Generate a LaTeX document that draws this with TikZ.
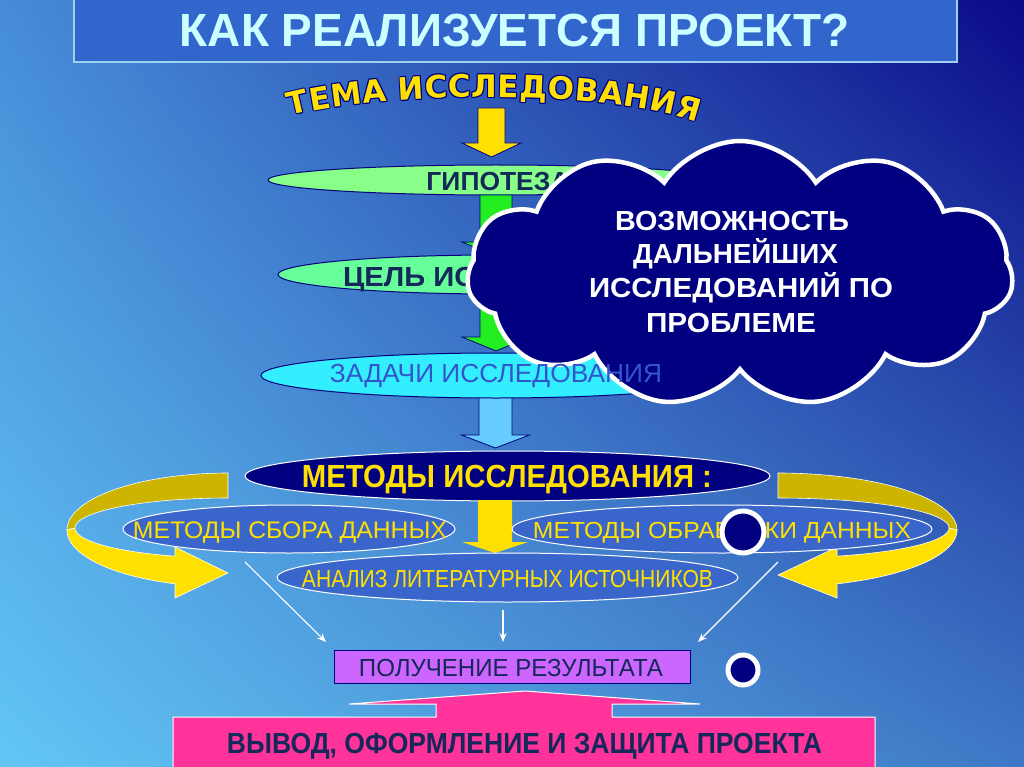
\documentclass[tikz,border=0pt]{standalone}
\usepackage{fontspec}
\setmainfont{Liberation Sans}
\newfontfamily\temafont{DejaVu Sans}
\usepackage{graphicx}
\usetikzlibrary{shapes.symbols,shapes.geometric,decorations.text,arrows.meta,shadings}
\definecolor{navy}{HTML}{000080}
\definecolor{ttl}{HTML}{3366CC}
\definecolor{ttltext}{HTML}{CCFFFF}
\definecolor{yel}{HTML}{FFE000}
\definecolor{olv}{HTML}{CCB400}
\definecolor{grnA}{HTML}{88FF88}
\definecolor{grnB}{HTML}{66FF99}
\definecolor{grnarr}{HTML}{22EE22}
\definecolor{cyanf}{HTML}{33EEFF}
\definecolor{skyarr}{HTML}{66CCFF}
\definecolor{subf}{HTML}{3A66CC}
\definecolor{viol}{HTML}{CC66FF}
\definecolor{pinkf}{HTML}{FF3399}
\definecolor{dtext}{HTML}{14285A}
\definecolor{btext}{HTML}{3355CC}
\definecolor{bgTL}{HTML}{468CD8}
\definecolor{bgTR}{HTML}{0A0A88}
\definecolor{bgBL}{HTML}{62C6F5}
\definecolor{bgBR}{HTML}{3F78C6}
\newcommand\fitt[3]{\resizebox{#1}{#2}{\raisebox{0pt}[\fontcharht\font`\H][0pt]{#3}}}
\newcommand\barrow[7]{\path[#1] ({#2-#6},#3) -- ({#2+#6},#3) -- ({#2+#6},#4) -- ({#2+#7},#4) -- (#2,#5) -- ({#2-#7},#4) -- ({#2-#6},#4) -- cycle;}
\tikzset{
  lbl/.style={inner sep=0pt, outer sep=0pt},
  ovl/.style={ellipse, inner sep=0pt, outer sep=0pt},
  darkov/.style={ovl, draw=navy, line width=1pt},
  whiteov/.style={ovl, draw=white, line width=1pt},
  thinarr/.style={draw=white, line width=1.1pt, -{Stealth[length=9pt,width=7pt]}},
  dot/.style={circle, fill=navy, draw=white, inner sep=0pt},
}
\begin{document}
\begin{tikzpicture}[x=1pt,y=-1pt]
\useasboundingbox (0,0) rectangle (1024,767);
\clip (0,0) rectangle (1024,767);
\shade[upper left=bgTL, upper right=bgTR, lower left=bgBL, lower right=bgBR] (0,0) rectangle (1024,767);

% title
\path[fill=ttl, draw=ttltext!70!ttl, line width=1.2pt] (74,-4) rectangle (957,62);
\node[lbl, font=\bfseries, text=ttltext] (title) at (515,31) {\fitt{670pt}{32pt}{КАК РЕАЛИЗУЕТСЯ ПРОЕКТ?}};

% tema (curved, outlined)
\foreach \dx/\dy in {-1/0,1/0,0/-1,0/1,0.8/0.8,-0.8/-0.8,0.8/-0.8,-0.8/0.8}{
\path[decorate, decoration={text along path, text={|\temafont\bfseries\fontsize{31}{31}\selectfont\color{navy}|ТЕМА ИССЛЕДОВАНИЯ}, text align=fit to path}] ({290+\dx},{116+\dy}) .. controls ({380+\dx},{92+\dy}) and ({600+\dx},{88+\dy}) .. ({697+\dx},{122+\dy});
}
\path[decorate, decoration={text along path, text={|\temafont\bfseries\fontsize{31}{31}\selectfont\color{yel}|ТЕМА ИССЛЕДОВАНИЯ}, text align=fit to path}] (290,116) .. controls (380,92) and (600,88) .. (697,122);

% arrows down the column
\barrow{fill=yel, draw=navy, line width=0.8pt}{491.5}{108}{143}{157}{13.5}{29.5}
\barrow{fill=grnarr, draw=navy, line width=0.8pt}{496}{194}{242}{256}{16}{34}
\barrow{fill=grnarr, draw=navy, line width=0.8pt}{496}{290}{337}{351}{16}{34}

\node[darkov, fill=grnA, minimum width=456pt, minimum height=30pt] (gip) at (496,180) {};
\node[lbl, font=\bfseries, text=dtext] (giptxt) at (498,181) {\fitt{143pt}{18pt}{ГИПОТЕЗА}};
\node[darkov, fill=grnB, minimum width=436pt, minimum height=39pt] (cel) at (496,274.5) {};
\node[lbl, font=\bfseries, text=dtext, anchor=west] (celtxt) at (343,276.5) {\fitt{340pt}{19pt}{ЦЕЛЬ ИССЛЕДОВАНИЯ}};

\barrow{fill=skyarr, draw=navy, line width=0.8pt}{495.5}{392}{435}{448}{16.5}{34}
\node[darkov, fill=cyanf, minimum width=470pt, minimum height=45pt] (zad) at (496,375.5) {};

% cloud
\node[cloud, cloud puffs=11, cloud puff arc=115, aspect=2.1, fill=navy, draw=white, line width=4.5pt, minimum width=546pt, minimum height=266pt] (cloud) at (740,274) {};
\node[lbl, font=\bfseries, text=white] (c1) at (732,221) {\fitt{234pt}{19pt}{ВОЗМОЖНОСТЬ}};
\node[lbl, font=\bfseries, text=white] (c2) at (735.5,254) {\fitt{205pt}{19pt}{ДАЛЬНЕЙШИХ}};
\node[lbl, font=\bfseries, text=white] (c3) at (741,288) {\fitt{304pt}{19pt}{ИССЛЕДОВАНИЙ ПО}};
\node[lbl, font=\bfseries, text=white] (c4) at (731,323) {\fitt{170pt}{19pt}{ПРОБЛЕМЕ}};

\node[lbl, text=btext] (zadtxt) at (496,373) {\fitt{332pt}{18pt}{ЗАДАЧИ ИССЛЕДОВАНИЯ}};

% methods
\node[whiteov, fill=navy, minimum width=525pt, minimum height=50pt] (met) at (507.5,476) {};
\node[lbl, font=\bfseries, text=yel] (mettxt) at (507,476) {\fitt{410pt}{22pt}{МЕТОДЫ ИССЛЕДОВАНИЯ :}};

\barrow{fill=yel}{495}{500}{542}{553}{17}{33}

% curved arrows
\path[fill=olv, draw=white, line width=0.6pt] plot[domain=270:180, samples=40] ({228+161*cos(\x)},{530+57*sin(\x)}) -- plot[domain=180:270, samples=40] ({228+153*cos(\x)},{528+30*sin(\x)}) -- cycle;
\path[fill=yel, draw=white, line width=0.6pt] plot[domain=180:109.2, samples=40] ({228+161*cos(\x)},{530+57*sin(\x)}) -- (175,598) -- (228,573) -- (175,547) -- plot[domain=110.3:180, samples=40] ({228+153*cos(\x)},{528+30*sin(\x)}) -- cycle;
\path[fill=olv, draw=white, line width=0.6pt] plot[domain=270:360, samples=40] ({778+179*cos(\x)},{530+57*sin(\x)}) -- plot[domain=360:270, samples=40] ({778+171*cos(\x)},{528+30*sin(\x)}) -- cycle;
\path[fill=yel, draw=white, line width=0.6pt] plot[domain=0:70.7, samples=40] ({778+179*cos(\x)},{530+57*sin(\x)}) -- (837,598) -- (778,575) -- (837,547) -- plot[domain=69.8:0, samples=40] ({778+171*cos(\x)},{528+30*sin(\x)}) -- cycle;

\node[whiteov, fill=subf, minimum width=332pt, minimum height=48pt] (sbor) at (289,529) {};
\node[lbl, text=yel] (sbortxt) at (290,530) {\fitt{314pt}{16.5pt}{МЕТОДЫ СБОРА ДАННЫХ}};
\node[whiteov, fill=subf, minimum width=420pt, minimum height=48pt] (obr) at (722,529) {};
\node[lbl, text=yel] (obrtxt) at (722,530) {\fitt{378pt}{16pt}{МЕТОДЫ ОБРАБОТКИ ДАННЫХ}};
\node[whiteov, fill=subf, minimum width=461pt, minimum height=49pt] (anl) at (507.5,577.5) {};
\node[lbl, text=yel] (anltxt) at (507.5,578.5) {\fitt{411pt}{17pt}{АНАЛИЗ ЛИТЕРАТУРНЫХ ИСТОЧНИКОВ}};

% dots
\node[dot, line width=5pt, minimum size=42pt] (dot1) at (743,532) {};
\node[dot, line width=5pt, minimum size=30pt] (dot2) at (743,670) {};

% result
\node[lbl, draw=navy, line width=1pt, fill=viol, minimum width=356pt, minimum height=33pt] (res) at (512,666.5) {};
\node[lbl, text=dtext] (restxt) at (511,667.5) {\fitt{304pt}{17pt}{ПОЛУЧЕНИЕ РЕЗУЛЬТАТА}};

\coordinate (s1) at (245,562);
\coordinate (e1) at (326,642);
\coordinate (s2) at (503,610);
\coordinate (e2) at (503,642);
\coordinate (s3) at (778,562);
\coordinate (e3) at (698,642);
\draw[thinarr] (s1) -- (e1);
\draw[thinarr] (s2) -- (e2);
\draw[thinarr] (s3) -- (e3);

% conclusion
\path[fill=pinkf, draw=white, line width=1pt] (173,780) -- (173,717) -- (436,717) -- (436,704) -- (349,704) -- (525,691) -- (700,704) -- (612,704) -- (612,717) -- (875,717) -- (875,780) -- cycle;
\node[lbl, font=\bfseries, text=dtext] (vyv) at (524.5,743) {\fitt{595pt}{20pt}{ВЫВОД, ОФОРМЛЕНИЕ И ЗАЩИТА ПРОЕКТА}};
\end{tikzpicture}
\end{document}
